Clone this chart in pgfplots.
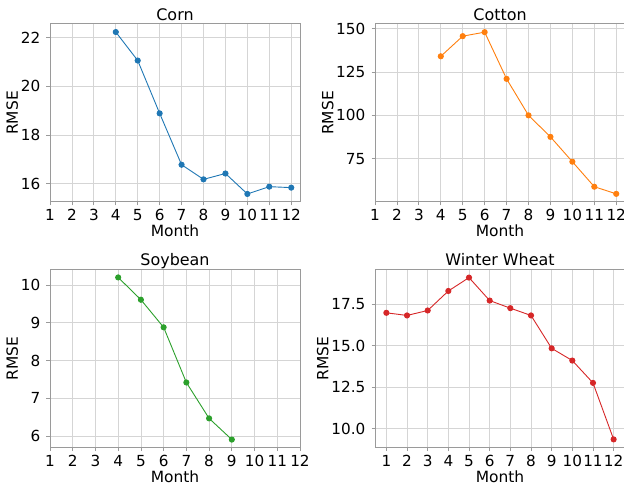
\documentclass[border=0pt]{standalone}
\usepackage{fontspec}
\setmainfont{DejaVu Sans}
\usepackage{pgfplots}
\pgfplotsset{compat=1.18}
\definecolor{tabblue}{HTML}{1F77B4}
\definecolor{taborange}{HTML}{FF7F0E}
\definecolor{tabgreen}{HTML}{2CA02C}
\definecolor{tabred}{HTML}{D62728}
\definecolor{spine}{HTML}{9A9A9A}
\definecolor{gridc}{HTML}{D5D5D5}
\newcommand{\fst}{\fontsize{15.3}{17}\selectfont}
\newcommand{\fsl}{\fontsize{15.5}{17}\selectfont}
\newcommand{\fsh}{\fontsize{16}{18}\selectfont}
\pgfplotsset{
  panel/.style={
    scale only axis, width=250bp, height=178bp,
    anchor=south west,
    /pgf/number format/assume math mode=true,
    tick label style={font=\fst},
    label style={font=\fsl},
    every axis title/.style={at={(axis description cs:0.5,1)}, anchor=base, inner sep=0pt, yshift=3.5bp, font=\fsh},
    xmin=1, xmax=12.4,
    xtick={1,...,12},
    grid=major,
    major grid style={gridc, line width=0.8bp},
    axis line style={spine, line width=1bp},
    tick style={spine, line width=0.8bp},
    major tick length=3.5bp,
    tick align=outside,
    xtick pos=bottom, ytick pos=left,
    xlabel={Month}, ylabel={RMSE},
    xlabel style={inner sep=0pt, yshift=-3.6bp},
    ylabel style={inner sep=0pt, yshift=2.5bp},
    xticklabel style={inner sep=0pt, yshift=-3.8bp},
    yticklabel style={inner sep=0pt, xshift=-6bp},
    every axis plot/.append style={line width=0.9bp, mark=*, mark size=2.6bp},
  }
}
\begin{document}
\begin{tikzpicture}
\useasboundingbox (0,0) rectangle (624bp,485bp);
\begin{axis}[panel, at={(50bp,283bp)}, title={Corn},
  ymin=15.25, ymax=22.56, ytick={16,18,20,22}]
\addplot[tabblue, mark options={fill=tabblue}] coordinates {
(4,22.23) (5,21.06) (6,18.89) (7,16.78) (8,16.18) (9,16.42) (10,15.58) (11,15.88) (12,15.84)};
\end{axis}
\begin{axis}[panel, at={(375bp,283bp)}, title={Cotton},
  ymin=50.1, ymax=152.6, ytick={75,100,125,150}]
\addplot[taborange, mark options={fill=taborange}] coordinates {
(4,134.0) (5,145.6) (6,147.9) (7,121.0) (8,100.0) (9,87.6) (10,73.3) (11,58.9) (12,54.8)};
\end{axis}
\begin{axis}[panel, at={(50bp,37.5bp)}, title={Soybean}, xmax=12,
  ymin=5.70, ymax=10.41, ytick={6,7,8,9,10}]
\addplot[tabgreen, mark options={fill=tabgreen}] coordinates {
(4,10.20) (5,9.61) (6,8.88) (7,7.42) (8,6.47) (9,5.91)};
\end{axis}
\begin{axis}[panel, at={(375bp,37.5bp)}, title={Winter Wheat}, xmin=0.45, xmax=12.55,
  ymin=8.85, ymax=19.62, ytick={10,12.5,15,17.5},
  yticklabel style={/pgf/number format/.cd, fixed, fixed zerofill, precision=1}]
\addplot[tabred, mark options={fill=tabred}] coordinates {
(1,17.00) (2,16.84) (3,17.14) (4,18.32) (5,19.13) (6,17.74) (7,17.28) (8,16.84) (9,14.85) (10,14.11) (11,12.76) (12,9.34)};
\end{axis}
\end{tikzpicture}
\end{document}
